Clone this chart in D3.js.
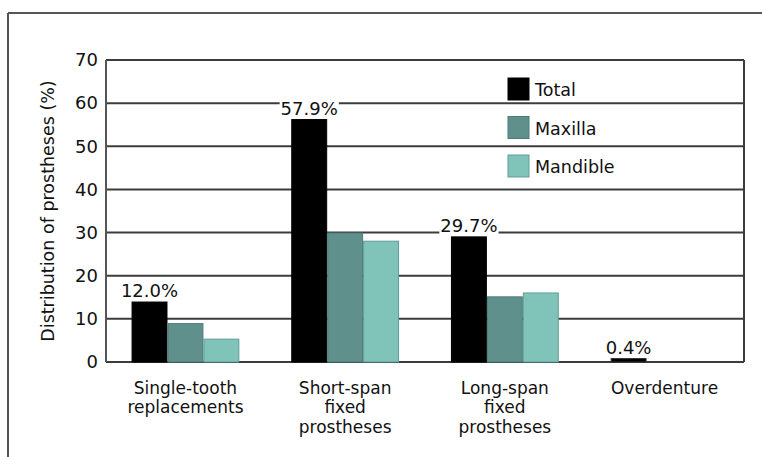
<!DOCTYPE html>
<html><head><meta charset="utf-8">
<script src="https://cdn.jsdelivr.net/npm/d3@7"></script>
<style>
html,body{margin:0;padding:0;background:#fff;}
svg{display:block;font-family:"DejaVu Sans",sans-serif;}
</style></head>
<body>
<svg id="chart" width="762" height="457"></svg>
<script>
const categories = [["Single-tooth","replacements"],["Short-span","fixed","prostheses"],["Long-span","fixed","prostheses"],["Overdenture"]];
const seriesNames = ["Total","Maxilla","Mandible"];
const totalValues = [13.9, 56.2, 29.0, 0.8];
const maxillaValues = [8.9, 29.9, 15.1, 0];
const mandibleValues = [5.3, 28.0, 16.0, 0];
const totalLabels = ["12.0%","57.9%","29.7%","0.4%"];
const yTicks = [0,10,20,30,40,50,60,70];
const colors = ["#000000","#5f908b","#80c3b9"];
const strokes = ["#000000","#4d7a76","#5f9d95"];

const svg = d3.select("#chart");
const L = 106, R = 744, T = 60, B = 362;
const y = d3.scaleLinear().domain([0,70]).range([B,T]);
const x0 = d3.scaleBand().domain(d3.range(categories.length)).range([L,R]).paddingInner(0.325).paddingOuter(0.16);
const x1 = d3.scaleBand().domain(seriesNames).range([0,x0.bandwidth()]);
const series = [totalValues, maxillaValues, mandibleValues];

// outer frame
svg.append("line").attr("x1",8).attr("x2",762).attr("y1",13).attr("y2",13).attr("stroke","#555").attr("stroke-width",2);
svg.append("line").attr("x1",8).attr("x2",8).attr("y1",13).attr("y2",457).attr("stroke","#555").attr("stroke-width",2);

// gridlines
svg.append("g").selectAll("line").data(yTicks).join("line")
  .attr("x1",L).attr("x2",R).attr("y1",d=>y(d)).attr("y2",d=>y(d))
  .attr("stroke","#3c3c3c").attr("stroke-width",2);
svg.append("line").attr("x1",L).attr("x2",L).attr("y1",T).attr("y2",B).attr("stroke","#555").attr("stroke-width",2);
svg.append("line").attr("x1",R).attr("x2",R).attr("y1",T).attr("y2",B).attr("stroke","#3c3c3c").attr("stroke-width",2);

// y axis labels
const yAxis = d3.axisLeft(y).tickValues(yTicks).tickSize(0).tickPadding(8);
const ga = svg.append("g").attr("transform",`translate(${L},0)`).call(yAxis);
ga.select(".domain").remove();
ga.selectAll("text").attr("font-size",18).attr("font-family","DejaVu Sans").attr("fill","#111");

// y title
svg.append("text").attr("transform",`translate(54,${(T+B)/2}) rotate(-90)`)
  .attr("text-anchor","middle").attr("font-size",17.5).attr("fill","#111")
  .text("Distribution of prostheses (%)");

// bars
categories.forEach((c,i)=>{
  const g = svg.append("g").attr("transform",`translate(${x0(i)},0)`);
  g.selectAll("rect").data(seriesNames.map((s,k)=>({s,k,v:series[k][i]})).filter(d=>d.v>0)).join("rect")
    .attr("x",d=>x1(d.s)+0.5).attr("width",x1.bandwidth()-1)
    .attr("y",d=>y(d.v)).attr("height",d=>y(0)-y(d.v))
    .attr("fill",d=>d.k===3?"#000":colors[d.k])
    .attr("stroke",d=>i===3?"#333":strokes[d.k]).attr("stroke-width",1);
});

// value labels
categories.forEach((c,i)=>{
  const cx = x0(i)+x1("Total")+x1.bandwidth()/2;
  const t = svg.append("text").attr("x",cx).attr("y",y(totalValues[i])-5)
    .attr("text-anchor","middle").attr("font-size",18).attr("fill","#111").text(totalLabels[i]);
  const bb = t.node().getBBox();
  svg.insert("rect", function(){return t.node();})
    .attr("x",bb.x-1).attr("y",bb.y+2).attr("width",bb.width+2).attr("height",bb.height-3).attr("fill","#fff");
});

// category labels
categories.forEach((lines,i)=>{
  const cx = x0(i)+x0.bandwidth()/2;
  const t = svg.append("text").attr("text-anchor","middle").attr("font-size",17).attr("fill","#111");
  lines.forEach((ln,j)=>{
    t.append("tspan").attr("x",cx).attr("y",394+j*19.3).text(ln);
  });
});

// legend
const lg = svg.append("g");
seriesNames.forEach((s,k)=>{
  const cy = 89 + k*38.5;
  lg.append("rect").attr("x",508).attr("y",cy-11).attr("width",21).attr("height",22)
    .attr("fill",colors[k]).attr("stroke",strokes[k]);
  lg.append("text").attr("x",535).attr("y",cy+7).attr("font-size",17.5).attr("fill","#111").text(s);
});
</script>
</body></html>
